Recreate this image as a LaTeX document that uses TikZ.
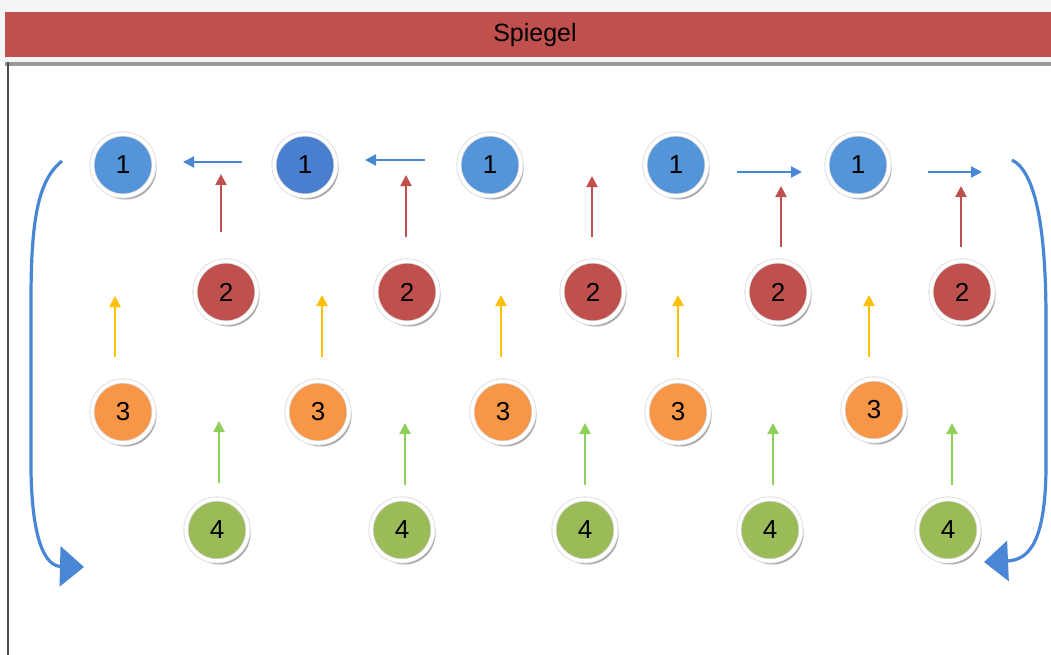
\documentclass[tikz,border=0pt]{standalone}
\usepackage{fontspec}
\setmainfont{Liberation Sans}
\usetikzlibrary{arrows.meta,shadows}
\definecolor{hdrred}{HTML}{C0504D}
\definecolor{cblue}{HTML}{5494D8}
\definecolor{cbluedk}{HTML}{4A7FD0}
\definecolor{cred}{HTML}{C0504D}
\definecolor{corange}{HTML}{F79646}
\definecolor{cgreen}{HTML}{9BBB59}
\definecolor{ablue}{HTML}{4A86D6}
\definecolor{ared}{HTML}{C0504D}
\definecolor{ayellow}{HTML}{FFC000}
\definecolor{agreen}{HTML}{8ED05A}
\tikzset{
  ball/.style={circle, minimum size=62pt, inner sep=0pt, draw=black!15, line width=0.8pt,
    double=white, double distance=3.5pt,
    drop shadow={shadow xshift=2.5pt, shadow yshift=-3.5pt, fill=black!45, opacity=0.75},
    font=\fontsize{26}{26}\selectfont},
  smallarrow/.style={line width=2.2pt, -{Triangle[length=11pt,width=11pt]}},
  bigarrow/.style={line width=3.2pt, color=ablue, -{Triangle[length=24pt,width=40pt]}}
}
\begin{document}
\begin{tikzpicture}[x=1pt,y=-1pt]
\useasboundingbox (0,0) rectangle (1051,655);
\fill[white] (0,0) rectangle (1051,655);
% header
\fill[black!4] (0,0) rectangle (1051,62);
\fill[hdrred] (5,12) rectangle (1051,57);
\node[font=\fontsize{25}{25}\selectfont] (title) at (535,35) {Spiegel};
\fill[black!40] (5,62) rectangle (1051,66);
\draw[black!70, line width=1.5pt] (8,62) -- (8,655);

% row 1
\node[ball, fill=cblue] (a1) at (123,165) {1};
\node[ball, fill=cbluedk] (a2) at (305,165) {1};
\node[ball, fill=cblue] (a3) at (490,165) {1};
\node[ball, fill=cblue] (a4) at (676,165) {1};
\node[ball, fill=cblue] (a5) at (858,165) {1};
% row 2
\node[ball, fill=cred] (b1) at (226,292) {2};
\node[ball, fill=cred] (b2) at (407,292) {2};
\node[ball, fill=cred] (b3) at (593,292) {2};
\node[ball, fill=cred] (b4) at (778,292) {2};
\node[ball, fill=cred] (b5) at (962,292) {2};
% row 3
\node[ball, fill=corange] (c1) at (123,412) {3};
\node[ball, fill=corange] (c2) at (318,412) {3};
\node[ball, fill=corange] (c3) at (503,412) {3};
\node[ball, fill=corange] (c4) at (678,412) {3};
\node[ball, fill=corange] (c5) at (874,410) {3};
% row 4
\node[ball, fill=cgreen] (d1) at (217,530) {4};
\node[ball, fill=cgreen] (d2) at (402,530) {4};
\node[ball, fill=cgreen] (d3) at (585,530) {4};
\node[ball, fill=cgreen] (d4) at (770,530) {4};
\node[ball, fill=cgreen] (d5) at (948,530) {4};

% blue horizontal arrows
\coordinate (h1s) at (242,162); \coordinate (h1e) at (183,162);
\coordinate (h2s) at (425,160); \coordinate (h2e) at (365,160);
\coordinate (h3s) at (737,172); \coordinate (h3e) at (802,172);
\coordinate (h4s) at (928,172); \coordinate (h4e) at (982,172);
\foreach \i in {1,...,4} \draw[smallarrow, ablue] (h\i s) -- (h\i e);

% red arrows
\coordinate (r1s) at (221,232); \coordinate (r1e) at (221,174);
\coordinate (r2s) at (406,237); \coordinate (r2e) at (406,175);
\coordinate (r3s) at (592,237); \coordinate (r3e) at (592,176);
\coordinate (r4s) at (781,247); \coordinate (r4e) at (781,186);
\coordinate (r5s) at (961,247); \coordinate (r5e) at (961,186);
\foreach \i in {1,...,5} \draw[smallarrow, ared] (r\i s) -- (r\i e);

% yellow arrows
\coordinate (y1s) at (115,357); \coordinate (y1e) at (115,296);
\coordinate (y2s) at (322,357); \coordinate (y2e) at (322,295);
\coordinate (y3s) at (501,357); \coordinate (y3e) at (501,295);
\coordinate (y4s) at (678,357); \coordinate (y4e) at (678,295);
\coordinate (y5s) at (869,357); \coordinate (y5e) at (869,295);
\foreach \i in {1,...,5} \draw[smallarrow, ayellow] (y\i s) -- (y\i e);

% green arrows
\coordinate (g1s) at (219,483); \coordinate (g1e) at (219,421);
\coordinate (g2s) at (405,485); \coordinate (g2e) at (405,423);
\coordinate (g3s) at (585,485); \coordinate (g3e) at (585,423);
\coordinate (g4s) at (773,485); \coordinate (g4e) at (773,423);
\coordinate (g5s) at (952,485); \coordinate (g5e) at (952,423);
\foreach \i in {1,...,5} \draw[smallarrow, agreen] (g\i s) -- (g\i e);

% big curved arrows
\coordinate (L0) at (62,161);
\coordinate (L1) at (84,567);
\draw[bigarrow] (L0) .. controls (38,180) and (31,220) .. (31,300) -- (31,470)
  .. controls (32,540) and (45,566) .. (L1);
\coordinate (R0) at (1012,160);
\coordinate (R1) at (984,562);
\draw[bigarrow] (R0) .. controls (1036,172) and (1046,230) .. (1046,320) -- (1046,470)
  .. controls (1045,540) and (1030,560) .. (R1);
\end{tikzpicture}
\end{document}
